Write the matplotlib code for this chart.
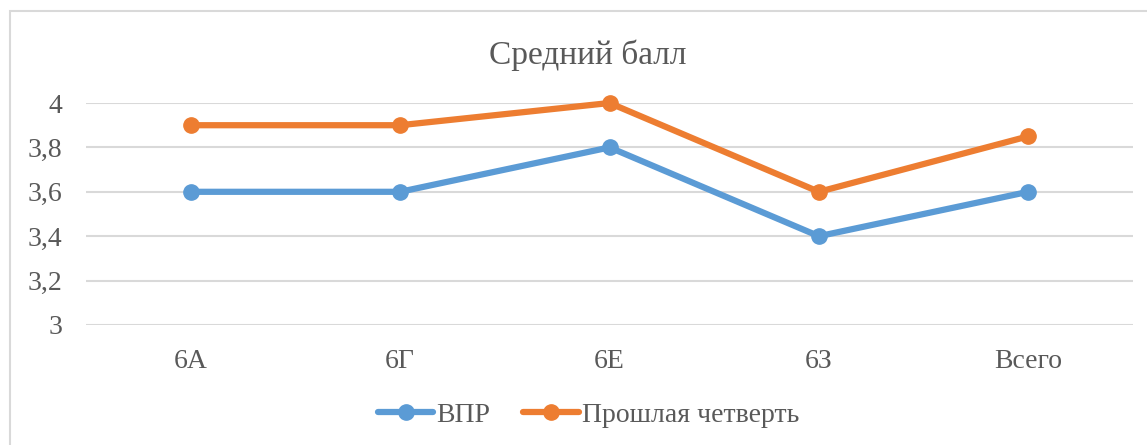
import matplotlib.pyplot as plt
from matplotlib.patches import Rectangle
from matplotlib.ticker import FuncFormatter

plt.rcParams['font.family'] = ['Liberation Serif', 'DejaVu Serif']

categories = ['6А', '6Г', '6Е', '6З', 'Всего']
vpr = [3.6, 3.6, 3.8, 3.4, 3.6]
last_quarter = [3.9, 3.9, 4.0, 3.6, 3.85]

TEXT = '#595959'
GRID = '#d9d9d9'
BLUE = '#5b9bd5'
ORANGE = '#ed7d31'

fig = plt.figure(figsize=(11.47, 4.45), dpi=100)
ax = fig.add_axes([0.075, 0.2697, 0.9128, 0.4988])

x = range(len(categories))
ax.plot(x, vpr, color=BLUE, lw=4.5, marker='o', ms=11,
        solid_capstyle='round', label='ВПР', zorder=3, clip_on=False)
ax.plot(x, last_quarter, color=ORANGE, lw=4.5, marker='o', ms=11,
        solid_capstyle='round', label='Прошлая четверть', zorder=3, clip_on=False)

ax.set_xlim(-0.5, len(categories) - 0.5)
ax.set_ylim(3, 4)
ax.set_yticks([3, 3.2, 3.4, 3.6, 3.8, 4])
ax.yaxis.set_major_formatter(FuncFormatter(lambda v, p: f'{v:g}'.replace('.', ',')))
ax.set_xticks(list(x))
ax.set_xticklabels(categories)
ax.grid(axis='y', color=GRID, lw=1.5)
ax.set_axisbelow(True)
for s in ax.spines.values():
    s.set_visible(False)
ax.tick_params(length=0, labelsize=20, colors=TEXT)
ax.tick_params(axis='x', pad=17)
ax.tick_params(axis='y', pad=17)

fig.text(0.512, 0.876, 'Средний балл', ha='center', va='center',
         fontsize=24, color=TEXT)

leg = fig.legend(loc='center', bbox_to_anchor=(0.513, 0.067), ncol=2,
                 frameon=False, fontsize=20, labelcolor=TEXT,
                 handlelength=2.0, handletextpad=0.1, columnspacing=1.2)

# chart area border
fig.patches.append(Rectangle((10 / 1147, -0.1), 1.2, 1 - 11 / 445 + 0.1,
                             transform=fig.transFigure, fill=False,
                             edgecolor=GRID, lw=1.5))

fig.savefig('out.png', dpi=100)
